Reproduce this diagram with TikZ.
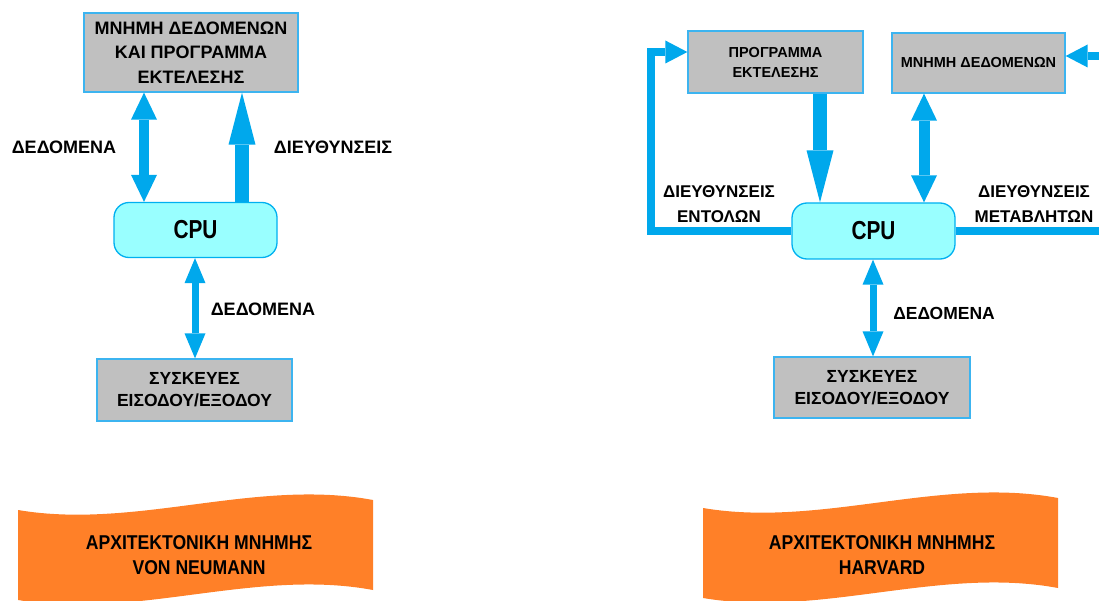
\documentclass[tikz,border=0pt]{standalone}
\usepackage{fontspec}
\setmainfont{Liberation Sans}
\newfontfamily\narrowfont{Liberation Sans}[FakeStretch=0.8]
\newfontfamily\bannerfont{Liberation Sans}[FakeStretch=0.88]
\usetikzlibrary{arrows.meta}
\definecolor{arrowblue}{RGB}{0,168,236}
\definecolor{boxline}{RGB}{60,180,240}
\definecolor{boxgray}{RGB}{192,192,192}
\definecolor{cpufill}{RGB}{153,255,255}
\definecolor{cpuline}{RGB}{0,176,240}
\definecolor{bannerorange}{RGB}{255,128,40}
\begin{document}
\begin{tikzpicture}[x=1pt,y=-1pt,
  graybox/.style={draw=boxline,line width=1.3pt,fill=boxgray,inner sep=0pt,align=center},
  cpubox/.style={draw=cpuline,line width=1.3pt,fill=cpufill,rounded corners=15pt,inner sep=0pt,
    minimum width=163pt,minimum height=55pt,font=\fontsize{26}{26}\selectfont\narrowfont\bfseries},
  lbl/.style={inner sep=0pt,align=center,font=\fontsize{18}{25}\selectfont\bfseries},
  lblsmall/.style={inner sep=0pt,align=center,font=\fontsize{17}{25}\selectfont\bfseries},
  bannertext/.style={inner sep=0pt,align=center,font=\fontsize{20}{25}\selectfont\bannerfont\bfseries},
  bigdbl/.style={draw=arrowblue,line width=10pt,
    {Triangle[width=26pt,length=27pt,line width=0pt]}-{Triangle[width=26pt,length=27pt,line width=0pt]}},
  smalldbl/.style={draw=arrowblue,line width=7pt,
    {Triangle[width=21pt,length=25pt,line width=0pt]}-{Triangle[width=21pt,length=25pt,line width=0pt]}},
  bigone/.style={draw=arrowblue,line width=13.5pt,-{Triangle[width=27pt,length=52pt,line width=0pt]}},
  looparrow/.style={draw=arrowblue,line width=8pt,line join=miter,-{Triangle[width=23pt,length=22pt,line width=0pt]}}
]
\path[use as bounding box] (0,0) rectangle (1099,601);
\clip (0,0) rectangle (1099,601);

% ---------------- banners ----------------
\fill[bannerorange] (18,510) .. controls (136,530) and (255,478) .. (373,500) -- (373,590)
  .. controls (255,568) and (136,620) .. (18,600) -- cycle;
\fill[bannerorange] (703,508) .. controls (821,528) and (940,476) .. (1058,498) -- (1058,588)
  .. controls (940,566) and (821,618) .. (703,598) -- cycle;
\node[bannertext] (banL) at (199,555.5) {ΑΡΧΙΤΕΚΤΟΝΙΚΗ ΜΝΗΜΗΣ\\VON NEUMANN};
\node[bannertext] (banR) at (882,555) {ΑΡΧΙΤΕΚΤΟΝΙΚΗ ΜΝΗΜΗΣ\\HARVARD};

% ---------------- von Neumann ----------------
\node[graybox,minimum width=214pt,minimum height=79pt,font=\fontsize{18}{24.5}\selectfont\bfseries]
  (mem1) at (191,52.5) {ΜΝΗΜΗ ΔΕΔΟΜΕΝΩΝ\\ΚΑΙ ΠΡΟΓΡΑΜΜΑ\\ΕΚΤΕΛΕΣΗΣ};
\node[cpubox] (cpu1) at (195.5,230) {CPU};
\node[graybox,minimum width=195pt,minimum height=62pt,font=\fontsize{17.5}{22}\selectfont\bfseries]
  (io1) at (194.5,390) {ΣΥΣΚΕΥΕΣ\\ΕΙΣΟΔΟΥ/ΕΞΟΔΟΥ};

\coordinate (xa) at (144,0);
\coordinate (xb) at (242,0);
\coordinate (xc) at (195,0);
\draw[bigdbl] (mem1.south -| xa) -- (cpu1.north -| xa);
\draw[bigone] (cpu1.north -| xb) -- (mem1.south -| xb);
\draw[smalldbl] (cpu1.south -| xc) -- (io1.north -| xc);

\node[lbl] (l1) at (64,147) {ΔΕΔΟΜΕΝΑ};
\node[lbl] (l2) at (333,147) {ΔΙΕΥΘΥΝΣΕΙΣ};
\node[lbl] (l3) at (263,309) {ΔΕΔΟΜΕΝΑ};

% ---------------- Harvard ----------------
\node[graybox,minimum width=175pt,minimum height=62pt,font=\fontsize{14.5}{20}\selectfont\bfseries]
  (prog) at (775.5,62) {ΠΡΟΓΡΑΜΜΑ\\ΕΚΤΕΛΕΣΗΣ};
\node[graybox,minimum width=173pt,minimum height=60pt,font=\fontsize{14.5}{20}\selectfont\bfseries]
  (mem2) at (978.5,63) {ΜΝΗΜΗ ΔΕΔΟΜΕΝΩΝ};
\node[cpubox,minimum height=56pt] (cpu2) at (873.5,231) {CPU};
\node[graybox,minimum width=196pt,minimum height=61pt,font=\fontsize{17.5}{22}\selectfont\bfseries]
  (io2) at (872,387.5) {ΣΥΣΚΕΥΕΣ\\ΕΙΣΟΔΟΥ/ΕΞΟΔΟΥ};

\coordinate (xd) at (820,0);
\coordinate (xe) at (924,0);
\coordinate (xf) at (873,0);
\coordinate (lc) at (651,0);
\coordinate (rc) at (1115,0);
\coordinate (progin) at ([yshift=10pt]prog.west);
\coordinate (memin) at ([yshift=7pt]mem2.east);

\draw[bigone] (prog.south -| xd) -- (cpu2.north -| xd);
\draw[bigdbl,line width=11pt] (mem2.south -| xe) -- (cpu2.north -| xe);
\draw[smalldbl] (cpu2.south -| xf) -- (io2.north -| xf);
\draw[looparrow] (cpu2.west) -| (lc |- progin) -- (progin);
\draw[looparrow] (cpu2.east) -| (rc |- memin) -- (memin);

\node[lblsmall] (l4) at (719,204.5) {ΔΙΕΥΘΥΝΣΕΙΣ\\ΕΝΤΟΛΩΝ};
\node[lblsmall] (l5) at (1034,204.5) {ΔΙΕΥΘΥΝΣΕΙΣ\\ΜΕΤΑΒΛΗΤΩΝ};
\node[lblsmall,font=\fontsize{17.5}{25}\selectfont\bfseries] (l6) at (944,313) {ΔΕΔΟΜΕΝΑ};
\end{tikzpicture}
\end{document}
